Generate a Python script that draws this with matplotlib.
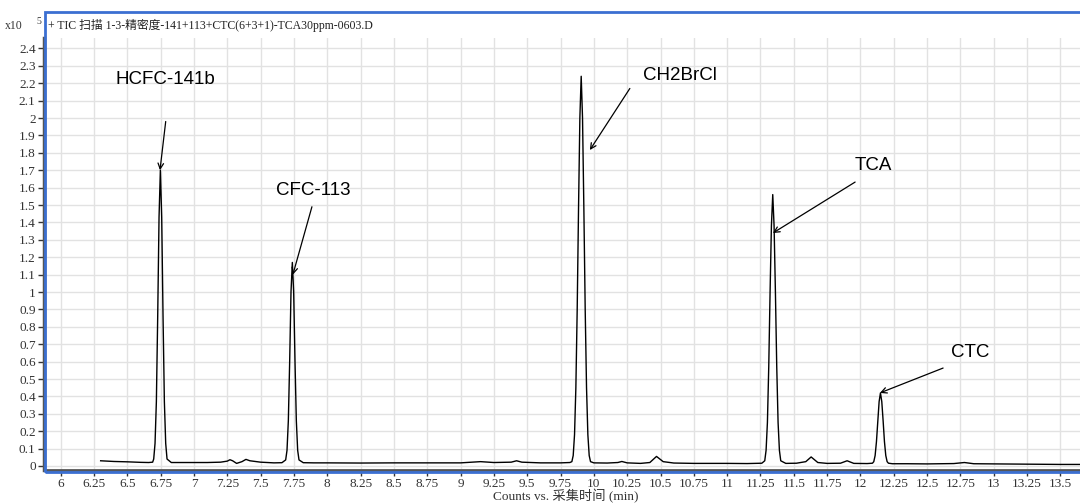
import matplotlib
matplotlib.use("Agg")
import matplotlib.pyplot as plt
import numpy as np

# TIC trace: retention time (min) and counts (x10^5)
rt = [6.30, 6.40, 6.50, 6.60, 6.66, 6.69,
      6.698, 6.708, 6.718, 6.728, 6.738, 6.748, 6.758, 6.768, 6.778, 6.788, 6.798,   # HCFC-141b
      6.83, 6.90, 7.00, 7.10, 7.20, 7.25, 7.27, 7.29, 7.32, 7.36, 7.39, 7.42, 7.50, 7.60, 7.66,
      7.688, 7.698, 7.708, 7.718, 7.728, 7.738, 7.748, 7.758, 7.768, 7.778, 7.788,     # CFC-113
      7.82, 7.90, 8.00, 8.25, 8.50, 8.75, 9.00, 9.15, 9.25, 9.38, 9.42, 9.46, 9.60, 9.75, 9.82,
      9.835, 9.845, 9.855, 9.865, 9.875, 9.885, 9.895, 9.905, 9.915, 9.925, 9.935,     # CH2BrCl
      9.945, 9.955, 9.965, 9.975,
      10.00, 10.10, 10.18, 10.21, 10.25, 10.35, 10.42, 10.47, 10.52, 10.60, 10.75, 11.00,
      11.15, 11.26,
      11.282, 11.292, 11.302, 11.312, 11.322, 11.332, 11.342, 11.352, 11.362, 11.372,  # TCA
      11.382, 11.392, 11.402,
      11.44, 11.52, 11.59, 11.63, 11.68, 11.75, 11.85, 11.90, 11.95, 12.05, 12.09,
      12.10, 12.11, 12.12, 12.13, 12.14, 12.15, 12.16, 12.17, 12.18, 12.19, 12.20,     # CTC
      12.21, 12.24, 12.35, 12.50, 12.70, 12.78, 12.85, 13.00, 13.25, 13.50, 13.65]
tic = [0.030, 0.026, 0.024, 0.021, 0.020, 0.022,
       0.04, 0.13, 0.37, 0.86, 1.43, 1.70, 1.43, 0.86, 0.37, 0.13, 0.04,
       0.020, 0.020, 0.020, 0.020, 0.022, 0.028, 0.036, 0.030, 0.015, 0.025, 0.038, 0.030, 0.022, 0.018, 0.019,
       0.035, 0.09, 0.26, 0.60, 1.00, 1.17, 1.00, 0.60, 0.26, 0.09, 0.035,
       0.019, 0.018, 0.018, 0.017, 0.018, 0.018, 0.018, 0.025, 0.020, 0.022, 0.030, 0.022, 0.018, 0.018, 0.020,
       0.025, 0.06, 0.18, 0.45, 0.90, 1.48, 2.00, 2.24, 2.00, 1.48, 0.90,
       0.45, 0.18, 0.06, 0.025,
       0.018, 0.017, 0.020, 0.026, 0.018, 0.015, 0.020, 0.055, 0.025, 0.017, 0.015, 0.015,
       0.014, 0.016,
       0.03, 0.09, 0.25, 0.57, 1.00, 1.38, 1.56, 1.38, 1.00, 0.57,
       0.25, 0.09, 0.03,
       0.015, 0.016, 0.025, 0.052, 0.020, 0.015, 0.016, 0.030, 0.015, 0.014, 0.016,
       0.025, 0.06, 0.14, 0.26, 0.37, 0.42, 0.37, 0.26, 0.14, 0.06, 0.025,
       0.016, 0.013, 0.013, 0.012, 0.014, 0.020, 0.013, 0.012, 0.010, 0.009, 0.009]

# peak labels: text position and arrow tip
labels = ["HCFC-141b", "CFC-113", "CH2BrCl", "TCA", "CTC"]
label_xy = [(6.782, 2.22), (7.893, 1.586), (10.646, 2.247), (12.094, 1.73), (12.82, 0.655)]
arrow_from = [(6.788, 1.98), (7.885, 1.49), (10.27, 2.17), (11.96, 1.632), (12.62, 0.563)]
arrow_to = [(6.745, 1.70), (7.742, 1.10), (9.97, 1.816), (11.343, 1.339), (12.146, 0.42)]

title = "+ TIC 扫描 1-3-精密度-141+113+CTC(6+3+1)-TCA30ppm-0603.D"
xlabel = "Counts vs. 采集时间 (min)"

fams = ["Liberation Serif", "Noto Sans CJK SC"]
plt.rcParams["font.family"] = fams

fig = plt.figure(figsize=(10.8, 5.04), dpi=100)
ax = fig.add_axes([44 / 1080, 1 - 470 / 504, 1 - 44 / 1080, (470 - 38) / 504])

ax.plot(rt, tic, color="black", lw=1.0)

ax.set_xlim(5.875, 13.647)
ax.set_ylim(-0.023, 2.46)
xt = np.arange(6, 13.51, 0.25)
yt = np.arange(0, 2.41, 0.1)
ax.set_xticks(xt)
ax.set_xticklabels(["%g" % round(v, 2) for v in xt], fontsize=9.5, color="#333333")
ax.set_yticks(yt)
ax.set_yticklabels(["%g" % round(v, 1) for v in yt], fontsize=9.5, color="#333333")
ax.tick_params(axis="both", direction="out", length=4, width=1, color="#333333", pad=2)
ax.grid(True, color="#e2e2e2", lw=1)
ax.set_axisbelow(True)
for s in ["top", "right"]:
    ax.spines[s].set_visible(False)
ax.spines["left"].set_color("#555555")
ax.spines["left"].set_linewidth(2.5)
ax.spines["bottom"].set_color("#555555")
ax.spines["bottom"].set_linewidth(2)

for lab, xy, a0, a1 in zip(labels, label_xy, arrow_from, arrow_to):
    ax.text(xy[0], xy[1], lab, ha="center", va="center", fontsize=13.5,
            family="Liberation Sans")
    ax.annotate("", xy=a1, xytext=a0,
                arrowprops=dict(arrowstyle="->", color="black", lw=0.9,
                                shrinkA=0, shrinkB=0))

# blue frame round the plot panel
frame = plt.Rectangle((45 / 1080, 1 - 472 / 504), 1.0, (472 - 12) / 504,
                      transform=fig.transFigure, fill=False, edgecolor="#3b6fd1",
                      lw=2, clip_on=False)
fig.patches.append(frame)

fig.text(48 / 1080, 1 - 25 / 504, title, ha="left", va="center", fontsize=8.5, color="#222222")
fig.text(5 / 1080, 1 - 26 / 504, "x10", ha="left", va="center", fontsize=8.5, color="#333333")
fig.text(36 / 1080, 1 - 22 / 504, "5", ha="left", va="center", fontsize=7, color="#333333")
fig.text(566 / 1080, 1 - 496 / 504, xlabel, ha="center", va="center", fontsize=9.5, color="#333333")

fig.savefig("out.png", dpi=100)
